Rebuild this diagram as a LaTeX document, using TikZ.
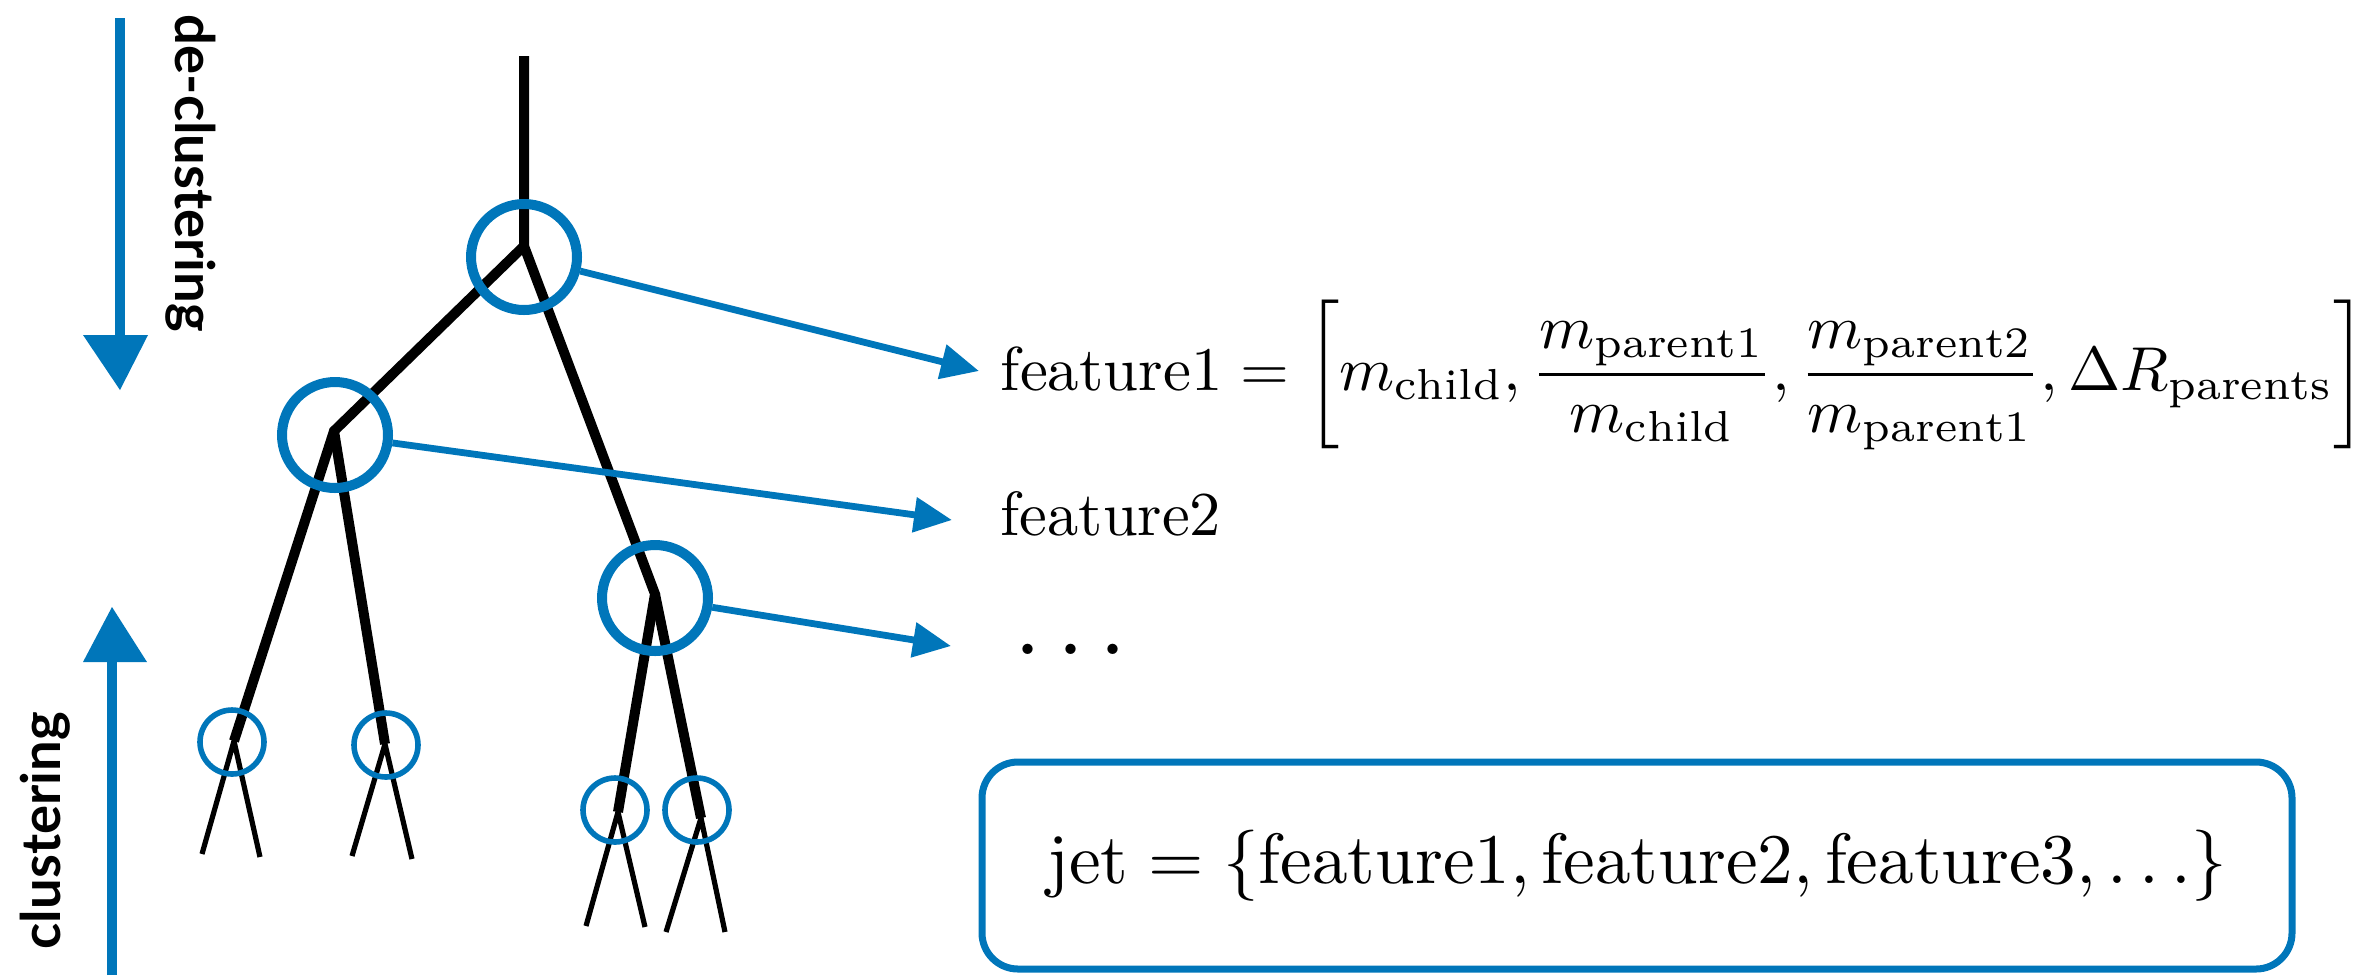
\documentclass[tikz,border=0pt]{standalone}
\usepackage{fontspec}
\newfontfamily\labfont{Lato}
\usetikzlibrary{arrows.meta}
\definecolor{kblue}{HTML}{0076BA}
\newcommand\eqscale[1]{\scalebox{1.57}[1.55]{#1}}
\newcommand\featscale[1]{\scalebox{1.56}{#1}}
\newcommand\jetscale[1]{\scalebox{1.78}{#1}}
\tikzset{
  treeline/.style={line width=2.5pt},
  leafline/.style={line width=1.3pt},
  bigcirc/.style={circle, draw=kblue, line width=2.5pt, minimum size=26.5pt, inner sep=0pt},
  smallcirc/.style={circle, draw=kblue, line width=1.4pt, minimum size=16pt, inner sep=0pt},
  featarrow/.style={draw=kblue, line width=1.7pt, -{Triangle[length=9.5pt,width=8.5pt]}},
  sketchshaft/.style={draw=kblue, line width=2.4pt},
  sidelabel/.style={font=\labfont\bfseries\fontsize{13.6}{16}\selectfont, inner sep=0pt},
  feattext/.style={inner sep=0pt, anchor=base west},
  jetbox/.style={draw=kblue, line width=1.75pt, rounded corners=9pt, minimum width=327.5pt, minimum height=51.75pt, inner sep=0pt}
}
\begin{document}
\begin{tikzpicture}[x=0.25pt,y=-0.25pt]
\useasboundingbox (0,0) rectangle (2375,976);

% tree junctions
\coordinate (r0) at (524,56);
\coordinate (j1) at (524,246);
\coordinate (j2) at (334,431);
\coordinate (j3) at (655,594);
\coordinate (j4) at (234,741);
\coordinate (j5) at (385,744);
\coordinate (j6) at (618,812);
\coordinate (j7) at (701,818);
% leaves
\coordinate (l1) at (202,854);
\coordinate (l2) at (260,857);
\coordinate (l3) at (352,856);
\coordinate (l4) at (412,859);
\coordinate (l5) at (586,926);
\coordinate (l6) at (645,927);
\coordinate (l7) at (666,932);
\coordinate (l8) at (725,932);

\draw[treeline] (r0) -- (j1) -- (j3) -- (j6);
\draw[treeline] (j1) -- (j2) -- (j4);
\draw[treeline] (j2) -- (j5);
\draw[treeline] (j3) -- (j7);

\draw[leafline] (l1) -- (j4) -- (l2);
\draw[leafline] (l3) -- (j5) -- (l4);
\draw[leafline] (l5) -- (j6) -- (l6);
\draw[leafline] (l7) -- (j7) -- (l8);

% circles
\node[bigcirc] (c1) at (524,257) {};
\node[bigcirc] (c2) at (335,435) {};
\node[bigcirc] (c3) at (655,598) {};
\node[smallcirc] (c4) at (232,742) {};
\node[smallcirc] (c5) at (386,745) {};
\node[smallcirc] (c6) at (615,810) {};
\node[smallcirc] (c7) at (697,810) {};

% feature texts
\node[feattext] (f1) at (1000,390) {\eqscale{$\displaystyle \mathrm{feature1} = \left[ m_{\mathrm{child}}, \frac{m_{\mathrm{parent1}}}{m_{\mathrm{child}}}, \frac{m_{\mathrm{parent2}}}{m_{\mathrm{parent1}}}, \Delta R_{\mathrm{parents}} \right]$}};
\node[feattext] (f2) at (1000,535) {\featscale{feature2}};
\node[feattext] (f3) at (1014,654) {\scalebox{2.43}{.\hspace{1.6pt}.\hspace{1.6pt}.}};

\coordinate (t1) at (979,371);
\coordinate (t2) at (952,520);
\coordinate (t3) at (951,646);
\draw[featarrow] (c1) -- (t1);
\draw[featarrow] (c2) -- (t2);
\draw[featarrow] (c3) -- (t3);

% jet box
\node[jetbox] (jet) at (1637,865.5) {\jetscale{$\mathrm{jet} = \{\mathrm{feature1}, \mathrm{feature2}, \mathrm{feature3}, \ldots\}$}\hspace{3.5pt}};

% side arrows
\draw[sketchshaft] (120,18) -- (120,338);
\fill[kblue] (83,335) -- (148,335) -- (120,390) -- cycle;
\draw[sketchshaft] (112,975) -- (112,659);
\fill[kblue] (83,662) -- (147,662) -- (112,607) -- cycle;

\node[sidelabel, rotate=-90, anchor=base west] (dc) at (175,14) {de-clustering};
\node[sidelabel, rotate=90, anchor=base west] (cl) at (60,950) {clustering};
\end{tikzpicture}
\end{document}
